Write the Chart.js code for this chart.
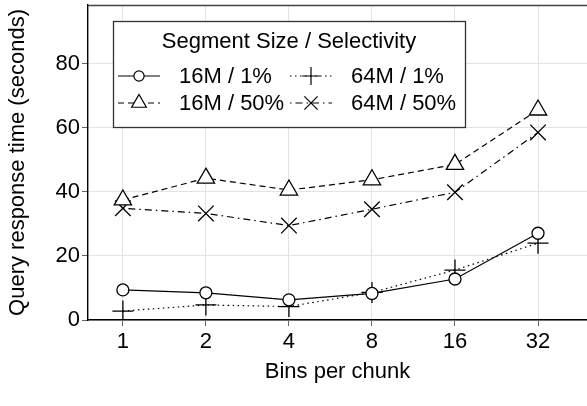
<!DOCTYPE html>
<html>
<head>
<meta charset="utf-8">
<script src="https://cdn.jsdelivr.net/npm/chart.js@4.4.1/dist/chart.umd.min.js"></script>
<style>
  html, body { margin: 0; padding: 0; background: #fff; }
  #wrap { width: 587px; height: 406px; }
</style>
</head>
<body>
<div id="wrap"><canvas id="chart" width="587" height="406"></canvas></div>
<script>
// values
const binLabels = ["1", "2", "4", "8", "16", "32"];
const seg16Sel1 = [9.4, 8.5, 6.3, 8.3, 12.8, 27.1];
const seg64Sel1 = [2.8, 4.7, 4.2, 8.6, 15.6, 24.0];
const seg16Sel50 = [37.5, 44.3, 40.6, 43.8, 48.6, 65.6];
const seg64Sel50 = [34.9, 33.3, 29.5, 34.6, 39.9, 58.6];
const yTicks = [0, 20, 40, 60, 80];

const FONT = '"Liberation Sans", Arial, Helvetica, sans-serif';

function toPoints(values) {
  return values.map((v, i) => ({ x: i, y: v }));
}

function makeSet(label, values, style, radius, dash) {
  return {
    label: label,
    data: toPoints(values),
    borderColor: "#000",
    borderWidth: 1.2,
    borderDash: dash,
    pointStyle: style,
    pointRadius: radius,
    pointBorderWidth: 1.3,
    pointBorderColor: "#000",
    pointBackgroundColor: "#fff",
    fill: false,
    tension: 0,
  };
}

// marker drawn in the legend box
function drawMarker(ctx, style, r, x, y) {
  ctx.beginPath();
  if (style === "circle") {
    ctx.arc(x, y, r, 0, Math.PI * 2);
    ctx.fill();
  } else if (style === "triangle") {
    ctx.moveTo(x, y - r);
    ctx.lineTo(x + r * Math.sqrt(3) / 2, y + r / 2);
    ctx.lineTo(x - r * Math.sqrt(3) / 2, y + r / 2);
    ctx.closePath();
    ctx.fill();
  } else if (style === "cross") {
    ctx.moveTo(x - r, y); ctx.lineTo(x + r, y);
    ctx.moveTo(x, y - r); ctx.lineTo(x, y + r);
  } else {
    const d = r * Math.SQRT1_2;
    ctx.moveTo(x - d, y - d); ctx.lineTo(x + d, y + d);
    ctx.moveTo(x + d, y - d); ctx.lineTo(x - d, y + d);
  }
  ctx.stroke();
}

const boxLegend = {
  id: "boxLegend",
  afterDatasetsDraw(chart) {
    const { ctx, chartArea } = chart;
    const left = chartArea.left + 25;
    const top = chartArea.top + 16;
    const w = 352, h = 106;
    ctx.save();
    // top frame line
    ctx.strokeStyle = "#444";
    ctx.lineWidth = 1.3;
    ctx.beginPath();
    ctx.moveTo(chartArea.left, chartArea.top + 0.5);
    ctx.lineTo(chartArea.right, chartArea.top + 0.5);
    ctx.stroke();

    ctx.fillStyle = "#fff";
    ctx.fillRect(left, top, w, h);
    ctx.strokeStyle = "#333";
    ctx.strokeRect(left + 0.5, top + 0.5, w, h);

    ctx.fillStyle = "#000";
    ctx.font = "22px " + FONT;
    ctx.textBaseline = "middle";
    ctx.textAlign = "center";
    ctx.fillText("Segment Size / Selectivity", left + w / 2, top + 21);

    ctx.textAlign = "left";
    chart.data.datasets.forEach((ds, i) => {
      const col = i % 2, row = Math.floor(i / 2);
      const x0 = left + 5 + col * 172;
      const y = top + 55 + row * 27;
      ctx.strokeStyle = "#000";
      ctx.lineWidth = 1.1;
      ctx.setLineDash(ds.borderDash);
      ctx.beginPath();
      ctx.moveTo(x0, y);
      ctx.lineTo(x0 + 42, y);
      ctx.stroke();
      ctx.setLineDash([]);
      ctx.fillStyle = "#fff";
      ctx.lineWidth = 1.2;
      drawMarker(ctx, ds.pointStyle, ds.pointRadius * 0.85, x0 + 21, y);
      ctx.fillStyle = "#000";
      ctx.fillText(ds.label, x0 + 61, y + 1);
    });
    ctx.restore();
  },
};

const chart = new Chart(document.getElementById("chart"), {
  type: "line",
  data: {
    datasets: [
      makeSet("16M / 1%", seg16Sel1, "circle", 6, []),
      makeSet("64M / 1%", seg64Sel1, "cross", 10.5, [1.5, 3.5]),
      makeSet("16M / 50%", seg16Sel50, "triangle", 10, [6, 4]),
      makeSet("64M / 50%", seg64Sel50, "crossRot", 11, [1.5, 4, 7, 4]),
    ],
  },
  options: {
    responsive: false,
    animation: false,
    layout: {
      autoPadding: false,
      padding: { top: 5, right: 0, left: 0, bottom: 0 },
    },
    plugins: {
      legend: { display: false },
      tooltip: { enabled: false },
    },
    scales: {
      x: {
        type: "linear",
        min: -0.42,
        max: 5.59,
        afterBuildTicks: (scale) => {
          scale.ticks = binLabels.map((_, i) => ({ value: i }));
        },
        afterFit: (scale) => {
          scale.height = 86;
          scale.paddingLeft = 0;
          scale.paddingRight = 0;
        },
        ticks: {
          callback: (v) => binLabels[v],
          color: "#000",
          font: { family: FONT, size: 22 },
          padding: 3,
          maxRotation: 0,
        },
        grid: { color: "#e3e3e3", tickColor: "#666", tickLength: 6 },
        border: { color: "#000", width: 1.4 },
        title: {
          display: true,
          text: "Bins per chunk",
          color: "#000",
          font: { family: FONT, size: 22 },
          padding: { top: 0, bottom: 21 },
        },
      },
      y: {
        min: 0,
        max: 98.4,
        afterBuildTicks: (scale) => {
          scale.ticks = yTicks.map((v) => ({ value: v }));
        },
        afterFit: (scale) => {
          scale.width = 88;
          scale.paddingTop = 0;
          scale.paddingBottom = 0;
        },
        ticks: {
          color: "#000",
          font: { family: FONT, size: 22 },
          padding: 2,
        },
        grid: { color: "#e3e3e3", tickColor: "#666", tickLength: 6 },
        border: { color: "#000", width: 1.4 },
        title: {
          display: true,
          text: "Query response time (seconds)",
          color: "#000",
          font: { family: FONT, size: 22 },
          padding: { top: 5, bottom: 0 },
        },
      },
    },
  },
  plugins: [boxLegend],
});
</script>
</body>
</html>
